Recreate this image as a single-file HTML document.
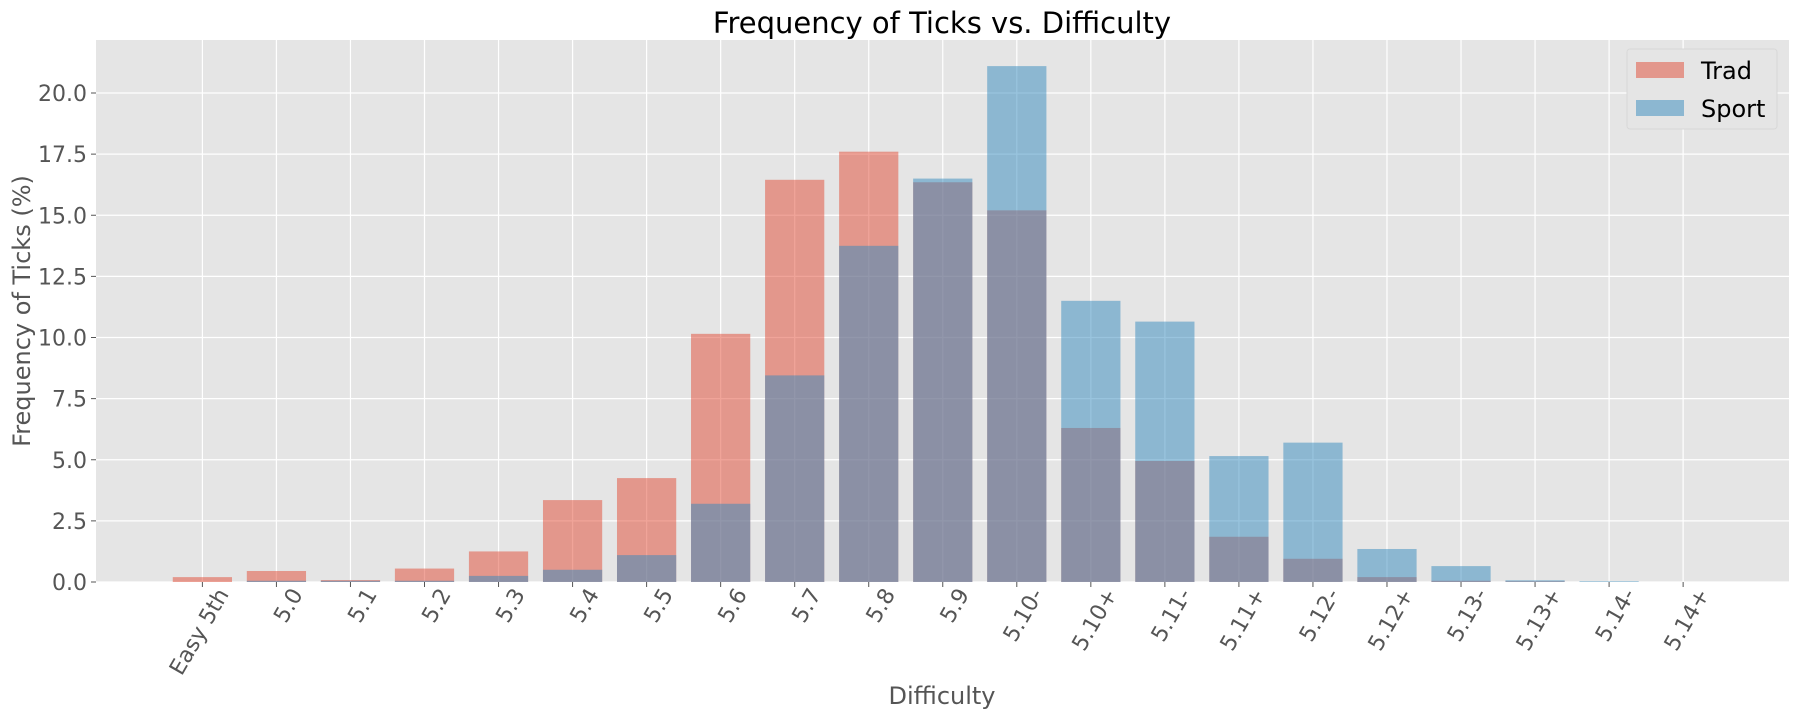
<!DOCTYPE html>
<html><head><meta charset="utf-8">
<style>
html,body{margin:0;padding:0;background:#fff;}
svg{display:block;font-family:"DejaVu Sans","Liberation Sans",sans-serif;}
</style></head>
<body>
<svg id="chart" width="1800" height="720" viewBox="0 0 1800 720" xmlns="http://www.w3.org/2000/svg">
<rect x="0" y="0" width="1800" height="720" fill="#fff"/>
<rect x="96" y="40" width="1693" height="542" fill="#E5E5E5"/>
<g id="grid"></g>
<g id="bars"></g>
<g id="xticks"></g>
<g id="yticks"></g>
<text x="942" y="33" text-anchor="middle" font-size="29" fill="#000">Frequency of Ticks vs. Difficulty</text>
<text x="942" y="704" text-anchor="middle" font-size="24" fill="#555">Difficulty</text>
<text transform="translate(30,311) rotate(-90)" text-anchor="middle" font-size="24" fill="#555">Frequency of Ticks (%)</text>
<g>
<rect x="1627" y="49" width="150" height="80" rx="3" fill="#E5E5E5" stroke="#d8d8d8" stroke-width="1"/>
<rect x="1636" y="62" width="48" height="16" fill="#E24A33" fill-opacity="0.5"/>
<text x="1701" y="79" font-size="24" fill="#000">Trad</text>
<rect x="1636" y="100" width="48" height="16" fill="#348ABD" fill-opacity="0.5"/>
<text x="1701" y="117" font-size="24" fill="#000">Sport</text>
</g>
</svg>
<script>
const categories = ["Easy 5th","5.0","5.1","5.2","5.3","5.4","5.5","5.6","5.7","5.8","5.9","5.10-","5.10+","5.11-","5.11+","5.12-","5.12+","5.13-","5.13+","5.14-","5.14+"];
const tradValues = [0.2,0.45,0.08,0.55,1.25,3.35,4.25,10.15,16.45,17.6,16.35,15.2,6.3,4.95,1.85,0.95,0.2,0.05,0.03,0,0];
const sportValues = [0,0.05,0.05,0.05,0.25,0.5,1.1,3.2,8.45,13.75,16.5,21.1,11.5,10.65,5.15,5.7,1.35,0.65,0.07,0.03,0];
const yTicks = [0,2.5,5,7.5,10,12.5,15,17.5,20];
const yTickLabels = ["0.0","2.5","5.0","7.5","10.0","12.5","15.0","17.5","20.0"];

const NS="http://www.w3.org/2000/svg";
const L=96,R=1789,T=40,B=582;
const xMin=-1.437,xMax=21.43;
const yPer=(B-93)/20;
function xs(i){return L+(i-xMin)/(xMax-xMin)*(R-L);}
function ys(v){return B-v*yPer;}
const bw=0.8*(xs(1)-xs(0));
function mk(tag,attrs,parent){const e=document.createElementNS(NS,tag);for(const k in attrs)e.setAttribute(k,attrs[k]);parent.appendChild(e);return e;}
const grid=document.getElementById('grid'),bars=document.getElementById('bars'),xt=document.getElementById('xticks'),yt=document.getElementById('yticks');
yTicks.forEach((v,i)=>{
  const g=mk('line',{x1:L,x2:R,y1:ys(v),y2:ys(v),stroke:'#fff','stroke-width':1.2},grid);
  
  
  mk('line',{x1:L-5,x2:L,y1:ys(v),y2:ys(v),stroke:'#555','stroke-width':1},yt);
  const t=mk('text',{x:L-9,y:ys(v)+8,'text-anchor':'end','font-size':22,fill:'#555'},yt);
  t.textContent=yTickLabels[i];
  
  
});
categories.forEach((c,i)=>{
  const x=xs(i);
  const g=mk('line',{x1:x,x2:x,y1:T,y2:B,stroke:'#fff','stroke-width':1.2},grid);
  
  
  mk('line',{x1:x,x2:x,y1:B,y2:B+5,stroke:'#555','stroke-width':1},xt);
  const t=mk('text',{transform:`translate(${x+27},${B+12}) rotate(-60)`,'text-anchor':'end','font-size':22,fill:'#555'},xt);
  t.textContent=c;
  
  
});
categories.forEach((c,i)=>{
  const v=tradValues[i];
  const r=mk('rect',{x:xs(i)-bw/2,y:ys(v),width:bw,height:B-ys(v),fill:'#E24A33','fill-opacity':0.5},bars);
  
  
});
categories.forEach((c,i)=>{
  const v=sportValues[i];
  const r=mk('rect',{x:xs(i)-bw/2,y:ys(v),width:bw,height:B-ys(v),fill:'#348ABD','fill-opacity':0.5},bars);
  
  
});
</script>
</body></html>
